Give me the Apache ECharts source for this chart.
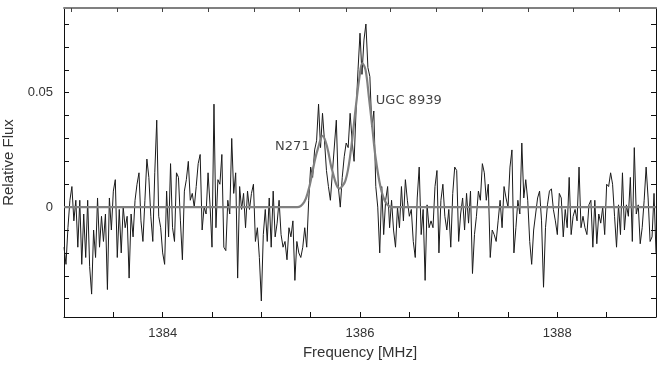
<!DOCTYPE html>
<html>
<head>
<meta charset="utf-8">
<script src="https://cdn.jsdelivr.net/npm/echarts@6/dist/echarts.min.js"></script>
<style>
  html, body { margin: 0; padding: 0; background: #fff; }
  #chart { width: 664px; height: 369px; }
</style>
</head>
<body>
<div id="chart"></div>
<script>
// spectrum channels: 1383.00 .. 1389.00 MHz, 0.02 MHz apart
const freqStart = 1383.0;
const chanWidth = 0.02;
const flux = [
  -0.0175, -0.025, -0.009, 0.003, 0.009, -0.006, 0.003, -0.0175, 0.003, -0.025,
  -0.003, -0.022, 0.003, -0.026, -0.038, -0.010, -0.022, 0.004, -0.0175, -0.004,
  -0.015, -0.003, -0.036, 0.004, -0.010, 0.007, 0.012, -0.022, -0.001, -0.020,
  0.000, -0.009, -0.004, -0.031, -0.003, -0.013, 0.003, 0.010, 0.015, -0.006,
  -0.015, 0.003, 0.021,
  0.013, -0.004, -0.015, 0.015, 0.038, -0.004, -0.009, -0.020, -0.025, 0.007,
  -0.013, 0.019, -0.009, -0.015, 0.015, 0.013, -0.006, -0.023, 0.007, 0.012,
  0.020, 0.003, 0.006, 0.000, 0.009, 0.019, 0.023, -0.010, 0.000, -0.003,
  0.015, 0.001, -0.0175, 0.045, -0.009, 0.012, 0.010, 0.023, -0.0175, -0.019,
  0.003, -0.003, 0.030,
  0.006, 0.015, -0.031, 0.009, -0.001, 0.006, -0.009, 0.007, -0.001, 0.006,
  0.010, -0.015, -0.009, -0.022, -0.041, -0.012, -0.001, -0.015, 0.004, -0.0175,
  0.007, -0.013, -0.007, 0.003, -0.012, -0.0175, -0.015, -0.023, -0.009, -0.013,
  -0.006, -0.032, -0.015, -0.020, -0.022, -0.0175, -0.009, -0.0175, 0.003, 0.0175,
  0.013, 0.025, 0.029,
  0.045, 0.026, 0.041, 0.029, 0.016, 0.009, 0.003, 0.015, 0.015, 0.038,
  0.009, 0.000, 0.013, 0.022, 0.028, 0.026, 0.041, 0.029, 0.020, 0.042,
  0.060, 0.076, 0.058, 0.073, 0.080, 0.061, 0.057, 0.035, 0.042, 0.009,
  0.000, -0.020, 0.009, -0.012, 0.003, 0.009, -0.009, 0.003, -0.010, -0.0175,
  0.000, -0.009, 0.009,
  -0.006, 0.012, 0.003, -0.004, -0.001, -0.015, -0.022, 0.004, 0.0175, -0.012,
  -0.001, -0.032, 0.001, -0.009, -0.006, -0.009, 0.009, 0.016, -0.020, 0.003,
  0.010, -0.004, -0.010, -0.001, -0.0175, 0.006, 0.0175, 0.016, -0.015, -0.003,
  0.004, -0.010, 0.006, -0.007, 0.007, -0.029, -0.012, -0.004, 0.007, 0.003,
  0.019, 0.015, 0.003,
  0.010, -0.022, -0.010, -0.012, -0.015, -0.006, 0.003, -0.009, 0.009, 0.004,
  0.000, 0.0175, 0.025, -0.020, -0.009, 0.003, -0.003, 0.028, 0.004, 0.012,
  0.003, -0.015, -0.025, -0.010, -0.003, 0.004, 0.007, -0.006, -0.035, -0.009,
  0.001, 0.007, 0.008, -0.001, -0.006, -0.012, 0.006, 0.004, -0.013, -0.001,
  -0.009, 0.013, -0.012,
  -0.004, -0.001, -0.006, 0.0175, -0.009, -0.004, -0.009, -0.012, 0.001, 0.003,
  -0.0175, 0.003, -0.016, -0.003, -0.007, 0.000, -0.012, 0.010, 0.009, 0.015,
  0.010, -0.004, -0.0175, 0.001, -0.012, 0.015, -0.010, 0.001, -0.004, 0.013,
  -0.015, 0.026, -0.003, 0.001, -0.016, -0.009, 0.003, 0.0175, 0.004, -0.015,
  -0.013, 0.006, -0.020
];

// two-component fit (N271 + UGC 8939)
const fitFreq = [1383.0, 1385.30, 1385.365, 1385.434, 1385.477, 1385.508, 1385.535, 1385.569,
  1385.622, 1385.667, 1385.718, 1385.792, 1385.853, 1385.904, 1385.954, 1385.995,
  1386.023, 1386.056, 1386.090, 1386.124, 1386.157, 1386.208, 1386.259, 1386.327, 1386.40, 1389.0];
const fitFlux = [0, 0, 0, 0.0022, 0.0073, 0.0131, 0.0190, 0.0249,
  0.0311, 0.0263, 0.0161, 0.0081, 0.0117, 0.0236, 0.0424, 0.0570,
  0.0629, 0.0600, 0.0482, 0.0351, 0.0219, 0.0088, 0.0022, 0, 0, 0];

const xLabels = [1384, 1386, 1388];
const xMinorTicks = [1383.5, 1384, 1384.5, 1385, 1385.5, 1386, 1386.5, 1387, 1387.5, 1388, 1388.5];
const yLabels = [0, 0.05];
const yTicks = [-0.04, -0.03, -0.02, -0.01, 0, 0.01, 0.02, 0.03, 0.04, 0.05, 0.06, 0.07, 0.08];
// velocity ticks on the top frame (no labels)
const topTicks = [1383.078, 1383.541, 1383.998, 1384.465, 1384.929, 1385.389, 1385.860,
  1386.310, 1386.777, 1387.241, 1387.704, 1388.164, 1388.631];

const notes = [
  { name: 'N271', f: 1385.51, v: 0.0266, pos: 'left' },
  { name: 'UGC 8939', f: 1386.14, v: 0.0464, pos: 'right' }
];

const yMin = -0.048, yMax = 0.087;

let spectrum = flux.map((v, i) => [freqStart + i * chanWidth, v]);
let fit = fitFreq.map((f, i) => [f, fitFlux[i]]);

let chart = echarts.init(document.getElementById('chart'), null, { renderer: 'canvas' });

let textStyle = { fontFamily: 'Liberation Sans, Arial, sans-serif', color: '#333' };

chart.setOption({
  animation: false,
  grid: { left: 64, right: 8, top: 8, bottom: 52, containLabel: false, outerBoundsMode: 'none' },
  xAxis: [
    {
      type: 'value',
      position: 'bottom',
      min: 1383,
      max: 1389,
      name: 'Frequency [MHz]',
      nameLocation: 'middle',
      nameGap: 28,
      nameTextStyle: Object.assign({ fontSize: 15 }, textStyle),
      axisLine: { onZero: false, lineStyle: { color: '#111', width: 1 } },
      axisTick: { inside: true, length: 5, customValues: xMinorTicks, lineStyle: { color: '#111' } },
      axisLabel: Object.assign({ fontSize: 13, margin: 10, customValues: xLabels,
        formatter: v => String(v) }, textStyle),
      splitLine: { show: false }
    },
    {
      type: 'value',
      position: 'top',
      min: 1383,
      max: 1389,
      axisLine: { onZero: false, lineStyle: { color: '#808080', width: 2 } },
      axisTick: { show: true, inside: true, length: 4, customValues: topTicks, lineStyle: { color: '#444', width: 1 } },
      axisLabel: { show: false },
      splitLine: { show: false }
    }
  ],
  yAxis: [
    {
      type: 'value',
      position: 'left',
      min: yMin,
      max: yMax,
      name: 'Relative Flux',
      nameLocation: 'middle',
      nameGap: 42,
      nameTextStyle: Object.assign({ fontSize: 15 }, textStyle),
      axisLine: { show: true, onZero: false, lineStyle: { color: '#111', width: 1 } },
      axisTick: { show: true, inside: true, length: 5, customValues: yTicks, lineStyle: { color: '#111' } },
      axisLabel: Object.assign({ fontSize: 13, margin: 11, customValues: yLabels,
        formatter: v => (v === 0 ? '0' : String(+v.toFixed(2))) }, textStyle),
      splitLine: { show: false }
    },
    {
      type: 'value',
      position: 'right',
      min: yMin,
      max: yMax,
      axisLine: { show: true, onZero: false, lineStyle: { color: '#111', width: 1 } },
      axisTick: { show: true, inside: true, length: 5, customValues: yTicks, lineStyle: { color: '#111' } },
      axisLabel: { show: false },
      splitLine: { show: false }
    }
  ],
  series: [
    {
      type: 'line',
      data: spectrum,
      showSymbol: false,
      lineStyle: { color: '#1a1a1a', width: 1 },
      z: 2
    },
    {
      type: 'line',
      data: fit,
      showSymbol: false,
      smooth: 0.35,
      lineStyle: { color: '#808080', width: 2.2 },
      z: 3
    },
    {
      type: 'scatter',
      symbolSize: 0,
      data: notes.map(n => ({ value: [n.f, n.v], name: n.name, label: { position: n.pos } })),
      label: {
        show: true,
        distance: 2,
        formatter: p => p.name,
        fontFamily: 'DejaVu Sans, sans-serif',
        fontSize: 13,
        color: '#111'
      },
      z: 4
    }
  ]
});
</script>
</body>
</html>
